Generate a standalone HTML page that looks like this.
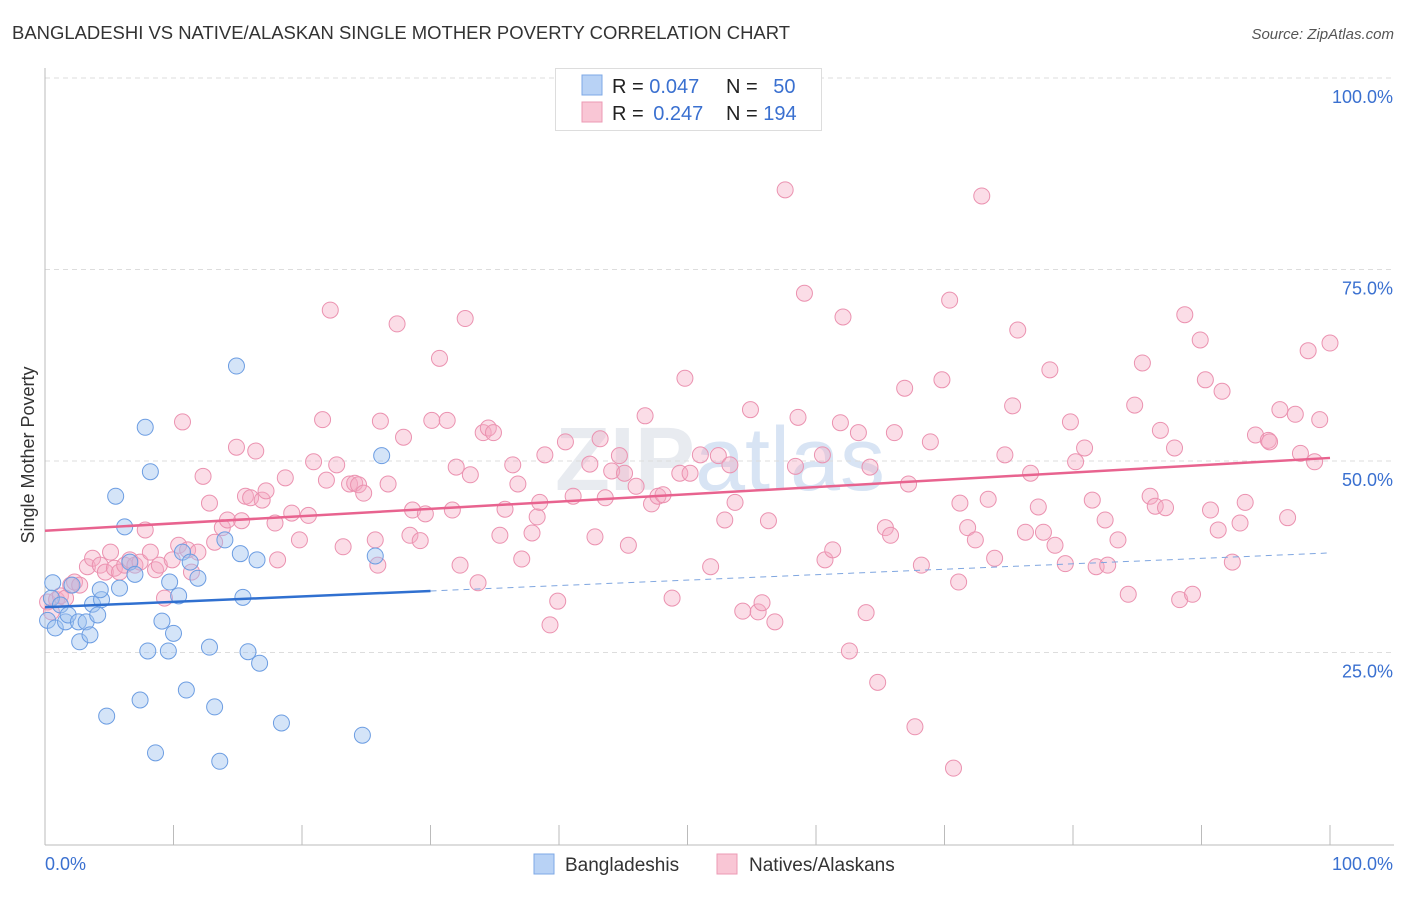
<!DOCTYPE html>
<html><head><meta charset="utf-8"><style>
body{margin:0;background:#fff;font-family:"Liberation Sans",sans-serif;}
svg text{font-family:"Liberation Sans",sans-serif;}
</style></head><body>
<svg id="chart" width="1406" height="892" viewBox="0 0 1406 892" xmlns="http://www.w3.org/2000/svg">
<text x="12" y="39" font-size="18" fill="#333" textLength="778" lengthAdjust="spacingAndGlyphs">BANGLADESHI VS NATIVE/ALASKAN SINGLE MOTHER POVERTY CORRELATION CHART</text>
<text x="1394" y="39" font-size="15" fill="#555" font-style="italic" text-anchor="end">Source: ZipAtlas.com</text>
<text x="720" y="490" font-size="90" fill="#e8ebf0" text-anchor="middle" font-weight="bold">ZIP<tspan fill="#d8e4f4" font-weight="normal">atlas</tspan></text>
<g id="grid"></g>
<g id="axes"></g>
<g id="pts"></g>
<g id="trend"></g>
<text transform="translate(34,455) rotate(-90)" font-size="18" fill="#333" text-anchor="middle">Single Mother Poverty</text>
<g>
<rect x="555.5" y="68.5" width="266" height="62" fill="#fff" stroke="#ddd"/>
<rect x="582" y="75" width="20" height="20" fill="#b8d2f5" stroke="#7ea8e6"/>
<rect x="582" y="102" width="20" height="20" fill="#f9c6d5" stroke="#ec9ab4"/>
<text x="612" y="93" font-size="20" fill="#222">R = <tspan fill="#3a70d0">0.047</tspan></text>
<text x="726" y="93" font-size="20" fill="#222">N = <tspan fill="#3a70d0" dx="10">50</tspan></text>
<text x="612" y="120" font-size="20" fill="#222">R = <tspan fill="#3a70d0" dx="4">0.247</tspan></text>
<text x="726" y="120" font-size="20" fill="#222">N = <tspan fill="#3a70d0">194</tspan></text>
</g>
<g>
<rect x="534" y="854" width="20" height="20" fill="#b8d2f5" stroke="#7ea8e6"/>
<text x="565" y="871" font-size="19" fill="#333">Bangladeshis</text>
<rect x="717" y="854" width="20" height="20" fill="#f9c6d5" stroke="#ec9ab4"/>
<text x="749" y="871" font-size="19" fill="#333">Natives/Alaskans</text>
</g>
</svg>
<script>
const yTicks=[25,50,75,100];
const yTickLabels=["25.0%","50.0%","75.0%","100.0%"];
const xTicks=[0,10,20,30,40,50,60,70,80,90,100];
const blueX=[0.2,0.5,0.8,1.2,1.6,1.8,2.1,2.6,2.7,3.2,3.5,3.7,4.1,4.4,4.8,5.5,5.8,6.2,6.6,7.0,7.4,7.8,8.0,8.2,8.6,9.1,9.6,9.7,10.0,10.4,10.7,11.0,11.3,11.9,12.8,13.2,13.6,14.0,14.9,15.2,15.4,15.8,16.5,16.7,18.4,24.7,25.7,26.2,0.6,4.3];
const blueY=[29.2,32.1,28.2,31.2,29.0,29.9,33.8,29.0,26.4,29.0,27.3,31.3,29.9,31.9,16.7,45.4,33.4,41.4,36.8,35.2,18.8,54.4,25.2,48.6,11.9,29.1,25.2,34.2,27.5,32.4,38.1,20.1,36.8,34.7,25.7,17.9,10.8,39.7,62.4,37.9,32.2,25.1,37.1,23.6,15.8,14.2,37.6,50.7,34.1,33.2];
const pinkX=[0.2,0.5,0.9,1.2,1.6,2.0,2.3,2.7,3.3,3.7,4.3,4.7,5.1,5.4,5.8,6.2,6.6,7.0,7.4,7.8,8.2,8.6,8.9,9.3,9.9,10.4,10.7,11.1,11.4,11.9,12.3,12.8,13.2,13.8,14.2,14.9,15.3,15.6,16.0,16.4,16.9,17.2,17.9,18.1,18.7,19.2,19.8,20.5,20.9,21.6,21.9,22.2,22.7,23.2,23.7,24.1,24.4,24.8,25.7,25.9,26.1,26.7,27.4,27.9,28.4,28.6,29.2,29.6,30.1,30.7,31.3,31.7,32.0,32.3,32.7,33.1,33.7,34.1,34.5,34.9,35.4,35.8,36.4,36.8,37.1,37.9,38.3,38.5,38.9,39.3,39.9,40.5,41.1,42.4,42.8,43.2,43.6,44.1,44.7,45.1,45.4,46.0,46.7,47.2,47.7,48.1,48.8,49.4,49.8,50.2,51.0,51.8,52.4,52.9,53.3,53.7,54.3,54.9,55.5,55.8,56.3,56.8,57.6,58.4,58.6,59.1,60.5,60.7,61.3,61.9,62.1,62.6,63.3,63.9,64.2,64.8,65.4,65.8,66.1,66.9,67.2,67.7,68.2,68.9,69.8,70.4,70.7,71.1,71.2,71.8,72.4,72.9,73.4,73.9,74.7,75.3,75.7,76.3,76.7,77.3,77.7,78.2,78.6,79.4,79.8,80.2,80.9,81.5,81.8,82.5,82.7,83.5,84.3,84.8,85.4,86.0,86.4,86.8,87.2,87.9,88.3,88.7,89.3,89.9,90.3,90.7,91.3,91.6,92.4,93.0,93.4,94.2,95.2,95.3,96.1,96.7,97.3,97.7,98.3,98.8,99.2,100];
const pinkY=[31.6,30.3,31.9,32.4,32.1,33.8,34.2,33.8,36.2,37.3,36.4,35.5,38.1,36.0,35.5,36.4,37.1,36.4,36.8,41.0,38.1,35.8,36.4,32.1,37.1,39.0,55.1,38.4,35.5,38.1,48.0,44.5,39.4,41.3,42.3,51.8,42.2,45.4,45.2,51.3,44.9,46.1,41.9,37.1,47.8,43.2,39.7,42.9,49.9,55.4,47.5,69.7,49.5,38.8,47.0,47.1,46.9,45.8,39.7,36.4,55.2,47.0,67.9,53.1,40.3,43.6,39.6,43.1,55.3,63.4,55.3,43.6,49.2,36.4,68.6,48.2,34.1,53.7,54.3,53.7,40.3,43.7,49.5,47.0,37.2,40.6,42.7,44.6,50.8,28.6,31.7,52.5,45.4,49.6,40.1,52.9,45.2,48.7,50.7,48.4,39.0,46.7,55.9,44.4,45.4,45.6,32.1,48.4,60.8,48.4,50.8,36.2,50.7,42.3,49.5,44.6,30.4,56.7,30.3,31.5,42.2,29.0,85.4,49.3,55.7,71.9,50.8,37.1,38.4,55.0,68.8,25.2,53.7,30.2,49.2,21.1,41.3,40.3,53.7,59.5,47.0,15.3,36.4,52.5,60.6,71.0,9.9,34.2,44.5,41.3,39.7,84.6,45.0,37.3,50.8,57.2,67.1,40.7,48.4,44.0,40.7,61.9,39.0,36.6,55.1,49.9,51.7,44.9,36.2,42.3,36.4,39.7,32.6,57.3,62.8,45.4,44.1,54.0,43.9,51.7,31.9,69.1,32.6,65.8,60.6,43.6,41.0,59.1,36.8,41.9,44.6,53.4,52.7,52.5,56.7,42.6,56.1,51.0,64.4,49.9,55.4,65.4];
const blueTrend=[30.9,38.0];
const pinkTrend=[40.9,50.4];
const NS="http://www.w3.org/2000/svg";
const X0=45,X1=1330,Y0=844,Y100=78;
function sx(v){return X0+(X1-X0)*v/100;}
function sy(v){return Y0-(Y0-Y100)*v/100;}
function mk(tag,attrs,parent){const e=document.createElementNS(NS,tag);for(const k in attrs)e.setAttribute(k,attrs[k]);parent.appendChild(e);return e;}
const grid=document.getElementById('grid'),axes=document.getElementById('axes'),pts=document.getElementById('pts'),trend=document.getElementById('trend');
yTicks.forEach((t,i)=>{
  const l=mk('line',{x1:45,x2:1394,y1:sy(t),y2:sy(t),stroke:'#ddd','stroke-dasharray':'5,4'},grid);
  
  
  const tx=mk('text',{x:1393,y:sy(t)+25,'font-size':18,fill:'#3a70d0','text-anchor':'end'},axes);
  tx.textContent=yTickLabels[i];
  
  
});
const ax=mk('line',{x1:45,x2:1394,y1:845,y2:845,stroke:'#bbb'},axes);


const ay=mk('line',{x1:45,x2:45,y1:68,y2:845,stroke:'#bbb'},axes);


xTicks.forEach(t=>{
  const l=mk('line',{x1:sx(t),x2:sx(t),y1:825,y2:845,stroke:'#bbb'},axes);
  
  
});
const xl0=mk('text',{x:45,y:870,'font-size':18,fill:'#3a70d0'},axes);xl0.textContent='0.0%';


const xl1=mk('text',{x:1393,y:870,'font-size':18,fill:'#3a70d0','text-anchor':'end'},axes);xl1.textContent='100.0%';


pinkX.forEach((x,i)=>{
  const c=mk('circle',{cx:sx(x),cy:sy(pinkY[i]),r:8,fill:'rgba(245,170,195,0.4)',stroke:'#eb92b0','stroke-width':1},pts);
  
  
});
blueX.forEach((x,i)=>{
  const c=mk('circle',{cx:sx(x),cy:sy(blueY[i]),r:8,fill:'rgba(160,195,240,0.45)',stroke:'#6c9de2','stroke-width':1},pts);
  
  
});
const bSolidEnd=30;
const bMid=blueTrend[0]+(blueTrend[1]-blueTrend[0])*bSolidEnd/100;
const b1=mk('line',{x1:sx(0),y1:sy(blueTrend[0]),x2:sx(bSolidEnd),y2:sy(bMid),stroke:'#3070d0','stroke-width':2.5},trend);


const b2=mk('line',{x1:sx(bSolidEnd),y1:sy(bMid),x2:sx(100),y2:sy(blueTrend[1]),stroke:'#7fa6e0','stroke-width':1,'stroke-dasharray':'6,5'},trend);


const p1=mk('line',{x1:sx(0),y1:sy(pinkTrend[0]),x2:sx(100),y2:sy(pinkTrend[1]),stroke:'#e8638f','stroke-width':2.5},trend);


</script>
</body></html>
